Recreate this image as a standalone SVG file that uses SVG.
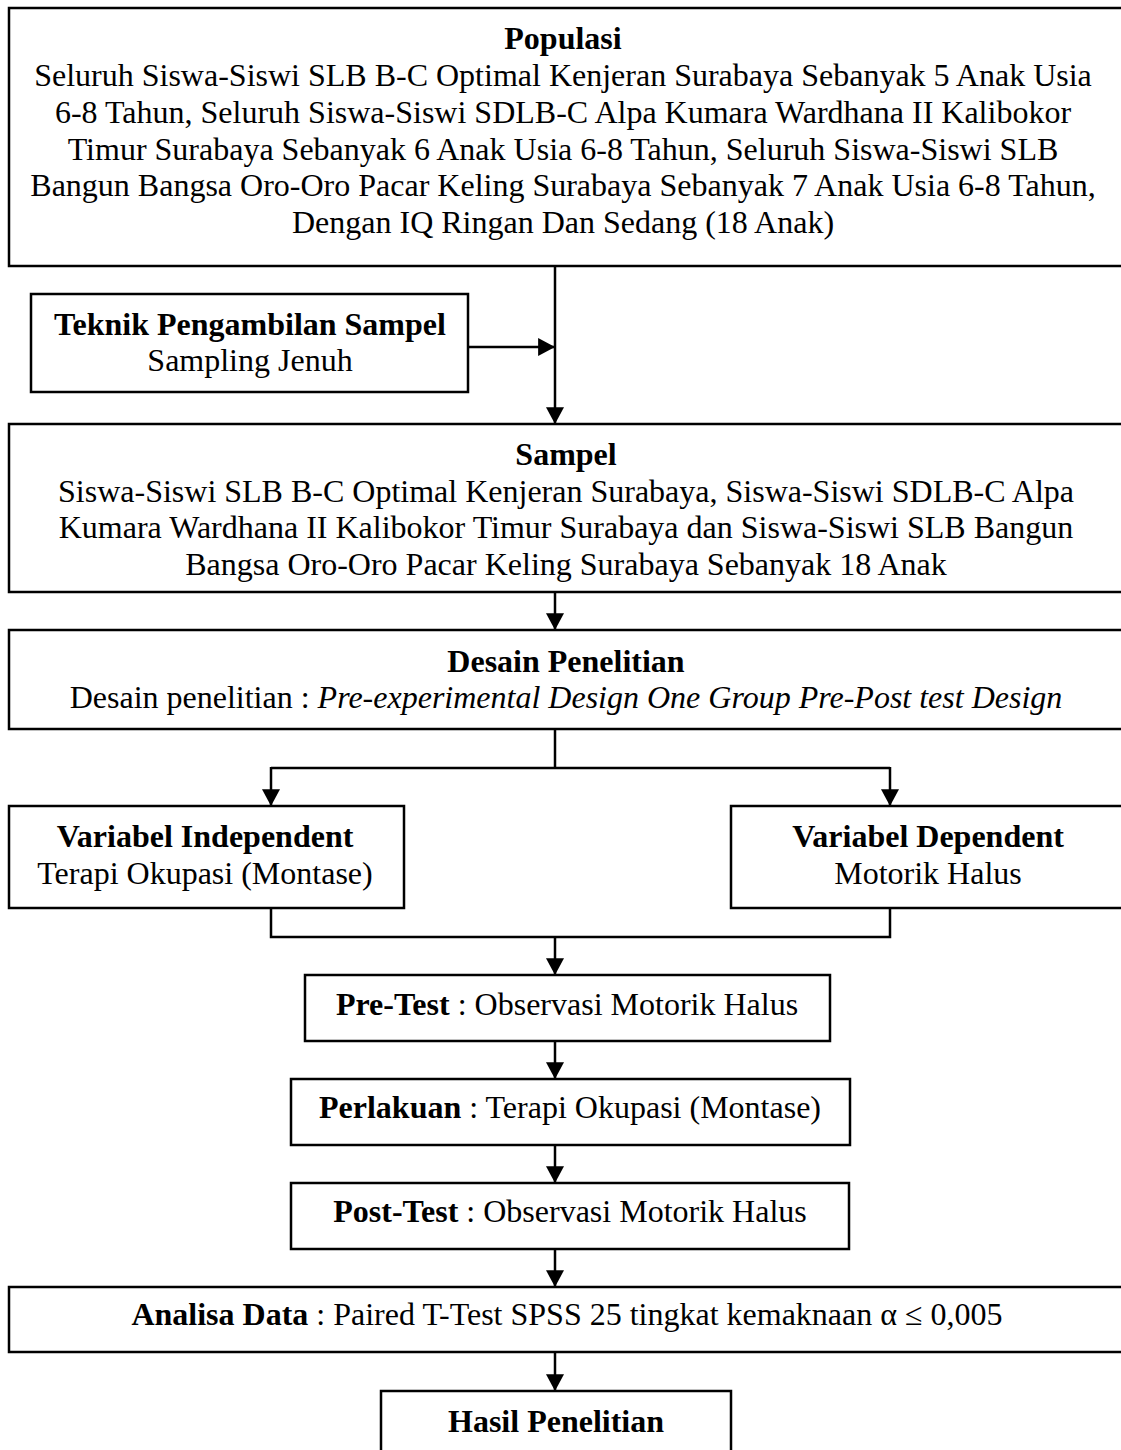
<svg xmlns="http://www.w3.org/2000/svg" width="1121" height="1450" viewBox="0 0 1121 1450">
<defs>
<style>
.box{fill:#fff;stroke:#000;stroke-width:2.5}
.t{font-family:"Liberation Serif","Times New Roman",serif;font-size:32px;fill:#000;text-anchor:middle}
.b{font-weight:bold}
.i{font-style:italic}
.ln{fill:none;stroke:#000;stroke-width:2.5}
</style>
<marker id="ah" markerUnits="userSpaceOnUse" markerWidth="18" markerHeight="18" viewBox="0 0 16 16" refX="15" refY="8" orient="auto">
<path d="M0,0 L15,8 L0,16 Z" fill="#000"/>
</marker>
</defs>
<rect width="1121" height="1450" fill="#fff"/>

<g id="connectors">
<line class="ln" x1="555" y1="266" x2="555" y2="424" marker-end="url(#ah)"/>
<line class="ln" x1="468" y1="347" x2="555" y2="347" marker-end="url(#ah)"/>
<line class="ln" x1="555" y1="592" x2="555" y2="630" marker-end="url(#ah)"/>
<polyline class="ln" points="555,729 555,768"/>
<line class="ln" x1="271" y1="768" x2="890" y2="768"/>
<line class="ln" x1="271" y1="767" x2="271" y2="806" marker-end="url(#ah)"/>
<line class="ln" x1="890" y1="767" x2="890" y2="806" marker-end="url(#ah)"/>
<polyline class="ln" points="271,908 271,937 890,937 890,908"/>
<line class="ln" x1="555" y1="937" x2="555" y2="975" marker-end="url(#ah)"/>
<line class="ln" x1="555" y1="1041" x2="555" y2="1079" marker-end="url(#ah)"/>
<line class="ln" x1="555" y1="1145" x2="555" y2="1183" marker-end="url(#ah)"/>
<line class="ln" x1="555" y1="1249" x2="555" y2="1287" marker-end="url(#ah)"/>
<line class="ln" x1="555" y1="1352" x2="555" y2="1391" marker-end="url(#ah)"/>
</g>

<g id="populasi">
<rect class="box" x="9" y="8" width="1120" height="258"/>
<text class="t b" x="563" y="49">Populasi</text>
<text class="t" x="563" y="86">Seluruh Siswa-Siswi SLB B-C Optimal Kenjeran Surabaya Sebanyak 5 Anak Usia</text>
<text class="t" x="563" y="123">6-8 Tahun, Seluruh Siswa-Siswi SDLB-C Alpa Kumara Wardhana II Kalibokor</text>
<text class="t" x="563" y="160">Timur Surabaya Sebanyak 6 Anak Usia 6-8 Tahun, Seluruh Siswa-Siswi SLB</text>
<text class="t" x="563" y="196">Bangun Bangsa Oro-Oro Pacar Keling Surabaya Sebanyak 7 Anak Usia 6-8 Tahun,</text>
<text class="t" x="563" y="233">Dengan IQ Ringan Dan Sedang (18 Anak)</text>
</g>

<g id="teknik">
<rect class="box" x="31" y="294" width="437" height="98"/>
<text class="t b" x="250" y="335">Teknik Pengambilan Sampel</text>
<text class="t" x="250" y="371">Sampling Jenuh</text>
</g>

<g id="sampel">
<rect class="box" x="9" y="424" width="1120" height="168"/>
<text class="t b" x="566" y="465">Sampel</text>
<text class="t" x="566" y="502">Siswa-Siswi SLB B-C Optimal Kenjeran Surabaya, Siswa-Siswi SDLB-C Alpa</text>
<text class="t" x="566" y="538">Kumara Wardhana II Kalibokor Timur Surabaya dan Siswa-Siswi SLB Bangun</text>
<text class="t" x="566" y="575">Bangsa Oro-Oro Pacar Keling Surabaya Sebanyak 18 Anak</text>
</g>

<g id="desain">
<rect class="box" x="9" y="630" width="1120" height="99"/>
<text class="t b" x="566" y="672">Desain Penelitian</text>
<text class="t" x="566" y="708">Desain penelitian : <tspan class="i">Pre-experimental Design One Group Pre-Post test Design</tspan></text>
</g>

<g id="var-independent">
<rect class="box" x="9" y="806" width="395" height="102"/>
<text class="t b" x="205" y="847">Variabel Independent</text>
<text class="t" x="205" y="884">Terapi Okupasi (Montase)</text>
</g>

<g id="var-dependent">
<rect class="box" x="731" y="806" width="398" height="102"/>
<text class="t b" x="928" y="847">Variabel Dependent</text>
<text class="t" x="928" y="884">Motorik Halus</text>
</g>

<g id="pretest">
<rect class="box" x="305" y="975" width="525" height="66"/>
<text class="t" x="567" y="1015"><tspan class="b">Pre-Test</tspan> : Observasi Motorik Halus</text>
</g>

<g id="perlakuan">
<rect class="box" x="291" y="1079" width="559" height="66"/>
<text class="t" x="570" y="1118"><tspan class="b">Perlakuan</tspan> : Terapi Okupasi (Montase)</text>
</g>

<g id="posttest">
<rect class="box" x="291" y="1183" width="558" height="66"/>
<text class="t" x="570" y="1222"><tspan class="b">Post-Test</tspan> : Observasi Motorik Halus</text>
</g>

<g id="analisa">
<rect class="box" x="9" y="1287" width="1120" height="65"/>
<text class="t" x="567" y="1325"><tspan class="b">Analisa Data</tspan> : Paired T-Test SPSS 25 tingkat kemaknaan α ≤ 0,005</text>
</g>

<g id="hasil">
<rect class="box" x="381" y="1391" width="350" height="80"/>
<text class="t b" x="556" y="1432">Hasil Penelitian</text>
</g>
</svg>
